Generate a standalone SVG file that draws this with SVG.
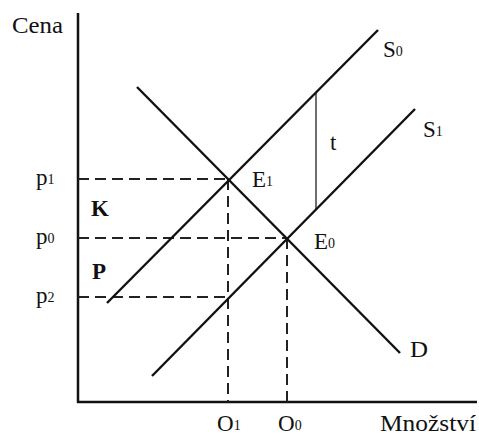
<svg xmlns="http://www.w3.org/2000/svg" width="479" height="435" viewBox="0 0 479 435">
<style>
.ax{stroke:#111;stroke-width:2.5;fill:none}
.ln{stroke:#111;stroke-width:2.4;fill:none}
.ds{stroke:#222;stroke-width:2;stroke-dasharray:11 6;fill:none}
.tl{stroke:#333;stroke-width:1.4;fill:none}
text{font-family:"Liberation Serif","Times New Roman",serif;font-size:23px;fill:#111}
.sub{font-size:14px}
.b{font-weight:bold}
</style>
<rect width="479" height="435" fill="#fff"/>
<g id="axes">
<line class="ax" x1="78" y1="13" x2="78" y2="403"/>
<line class="ax" x1="77" y1="402" x2="477" y2="402"/>
<text x="12" y="33" textLength="51" lengthAdjust="spacingAndGlyphs">Cena</text>
<text x="380" y="431" textLength="96" lengthAdjust="spacingAndGlyphs">Množství</text>
</g>
<g id="connectors">
<line class="ds" x1="78" y1="179" x2="228" y2="179"/>
<line class="ds" x1="78" y1="238" x2="287" y2="238"/>
<line class="ds" x1="78" y1="297" x2="228" y2="297"/>
<line class="ds" x1="228" y1="179" x2="228" y2="402"/>
<line class="ds" x1="287" y1="238" x2="287" y2="402"/>
<line class="tl" x1="316" y1="92" x2="316" y2="209"/>
</g>
<g id="S0">
<line class="ln" x1="107" y1="303" x2="378" y2="30"/>
<text x="383" y="57">S<tspan class="sub" dy="-1">0</tspan></text>
</g>
<g id="S1">
<line class="ln" x1="152" y1="376" x2="415" y2="109"/>
<text x="423" y="137">S<tspan class="sub" dy="-1">1</tspan></text>
</g>
<g id="D">
<line class="ln" x1="137" y1="87" x2="400" y2="353"/>
<text x="410" y="357" textLength="18" lengthAdjust="spacingAndGlyphs">D</text>
</g>
<g id="E1"><text x="252" y="187">E<tspan class="sub" dy="-1">1</tspan></text></g>
<g id="E0"><text x="314" y="249">E<tspan class="sub" dy="-1">0</tspan></text></g>
<g id="t"><text x="330" y="150">t</text></g>
<g id="p1"><text x="36" y="185">p<tspan class="sub" dy="-1">1</tspan></text></g>
<g id="p0"><text x="36" y="244">p<tspan class="sub" dy="-1">0</tspan></text></g>
<g id="p2"><text x="36" y="303">p<tspan class="sub" dy="-1">2</tspan></text></g>
<g id="K"><text class="b" x="91" y="216">K</text></g>
<g id="P"><text class="b" x="92" y="279">P</text></g>
<g id="O1"><text x="217" y="431">O<tspan class="sub" dy="-1">1</tspan></text></g>
<g id="O0"><text x="278" y="431">O<tspan class="sub" dy="-1">0</tspan></text></g>
</svg>
